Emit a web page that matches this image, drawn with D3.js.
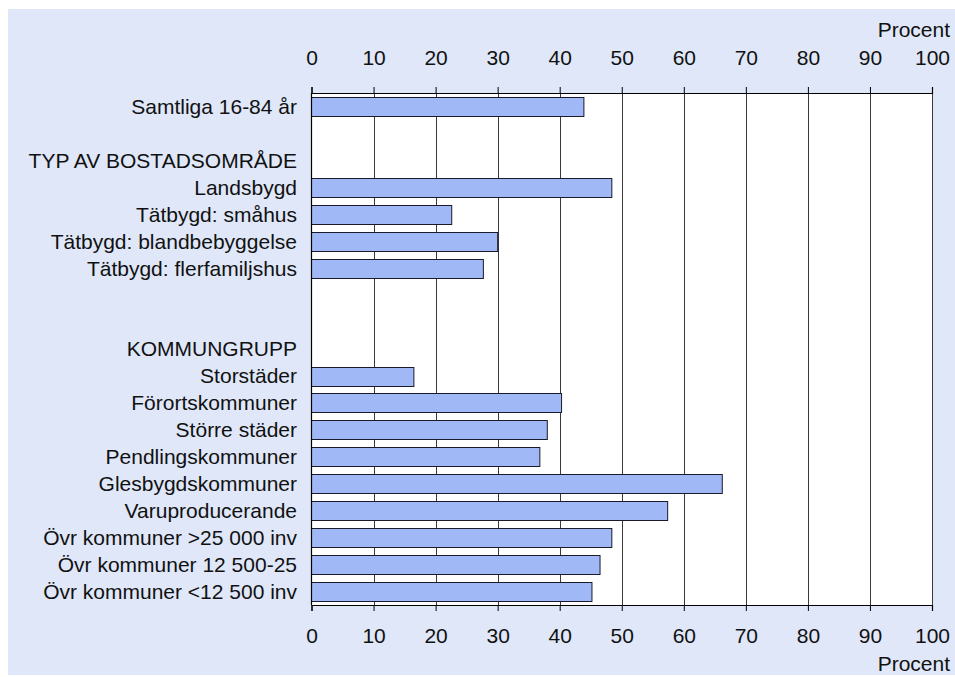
<!DOCTYPE html>
<html><head><meta charset="utf-8">
<script src="https://cdn.jsdelivr.net/npm/d3@7"></script>
<style>
html,body{margin:0;padding:0;background:#ffffff;}
svg{display:block;font-family:"Liberation Sans",Arial,sans-serif;}
</style></head>
<body>
<svg id="chart" width="955" height="677"></svg>
<script>
// Data
const categories = [
  "Samtliga 16-84 år",
  "blank1",
  "TYP AV BOSTADSOMRÅDE",
  "Landsbygd",
  "Tätbygd: småhus",
  "Tätbygd: blandbebyggelse",
  "Tätbygd: flerfamiljshus",
  "blank2",
  "blank3",
  "KOMMUNGRUPP",
  "Storstäder",
  "Förortskommuner",
  "Större städer",
  "Pendlingskommuner",
  "Glesbygdskommuner",
  "Varuproducerande",
  "Övr kommuner >25 000 inv",
  "Övr kommuner 12 500-25",
  "Övr kommuner <12 500 inv"
];
const labels = [
  "Samtliga 16-84 år", "", "TYP AV BOSTADSOMRÅDE", "Landsbygd", "Tätbygd: småhus",
  "Tätbygd: blandbebyggelse", "Tätbygd: flerfamiljshus", "", "", "KOMMUNGRUPP",
  "Storstäder", "Förortskommuner", "Större städer", "Pendlingskommuner",
  "Glesbygdskommuner", "Varuproducerande", "Övr kommuner >25 000 inv",
  "Övr kommuner 12 500-25", "Övr kommuner <12 500 inv"
];
const values = [43.9, null, null, 48.4, 22.6, 30.0, 27.7, null, null, null,
  16.5, 40.3, 38.0, 36.8, 66.2, 57.4, 48.4, 46.5, 45.2];
const tickValues = [0,10,20,30,40,50,60,70,80,90,100];
const axisTitle = "Procent";

const FS = 21;
const svg = d3.select("#chart");
const pLeft = 311.5, pRight = 932, pTop = 93, pBottom = 605;

// background
svg.append("rect").attr("x",8).attr("y",9).attr("width",947).attr("height",666).attr("fill","#dfe7f9");
svg.append("rect").attr("x",pLeft).attr("y",pTop).attr("width",pRight-pLeft).attr("height",pBottom-pTop).attr("fill","#ffffff");

const x = d3.scaleLinear().domain([0,100]).range([pLeft,pRight]);
const y = d3.scaleBand().domain(categories).range([pTop,pBottom]).paddingInner(0.3).paddingOuter(0.15);

// gridlines
svg.append("g").selectAll("line").data(tickValues.slice(1)).join("line")
  .attr("x1",d=>Math.round(x(d))+0.5).attr("x2",d=>Math.round(x(d))+0.5)
  .attr("y1",pTop).attr("y2",pBottom).attr("stroke","#3a3a3a").attr("stroke-width",1);

// bars
const data = categories.map((c,i)=>({c, v: values[i], label: labels[i]}));
svg.append("g").selectAll("rect").data(data.filter(d=>d.v!=null)).join("rect")
  .attr("x",x(0)).attr("y",d=>Math.round(y(d.c))+0.5)
  .attr("width",d=>x(d.v)-x(0)).attr("height",Math.round(y.bandwidth()))
  .attr("fill","#a1b8f6").attr("stroke","#1a1a2a").attr("stroke-width",1);

// axes
const axTop = d3.axisTop(x).tickValues(tickValues).tickSize(6).tickPadding(22).tickFormat(d3.format("d"));
const axBot = d3.axisBottom(x).tickValues(tickValues).tickSize(6).tickPadding(17).tickFormat(d3.format("d"));
function styleAxis(g){
  g.selectAll("path").attr("stroke","#000").attr("stroke-width",1.2);
  g.selectAll("line").attr("stroke","#000");
  g.selectAll("text").attr("font-size",FS).attr("fill","#111").attr("font-family","Liberation Sans, Arial, sans-serif");
}
svg.append("g").attr("transform",`translate(0,${pTop})`).call(axTop).call(styleAxis);
svg.append("g").attr("transform",`translate(0,${pBottom})`).call(axBot).call(styleAxis);

// left axis line
svg.append("line").attr("x1",pLeft).attr("x2",pLeft).attr("y1",pTop).attr("y2",pBottom).attr("stroke","#000").attr("stroke-width",1.2);

// category labels
svg.append("g").selectAll("text").data(data.filter(d=>d.label!=="")).join("text")
  .attr("x",297).attr("y",d=>y(d.c)+y.bandwidth()/2).attr("dy","0.35em")
  .attr("text-anchor","end").attr("font-size",FS).attr("fill","#111")
  .text(d=>d.label);

// axis titles
svg.append("text").attr("x",950).attr("y",37).attr("text-anchor","end").attr("font-size",FS).attr("fill","#111").text(axisTitle);
svg.append("text").attr("x",950).attr("y",671).attr("text-anchor","end").attr("font-size",FS).attr("fill","#111").text(axisTitle);
</script>
</body></html>
